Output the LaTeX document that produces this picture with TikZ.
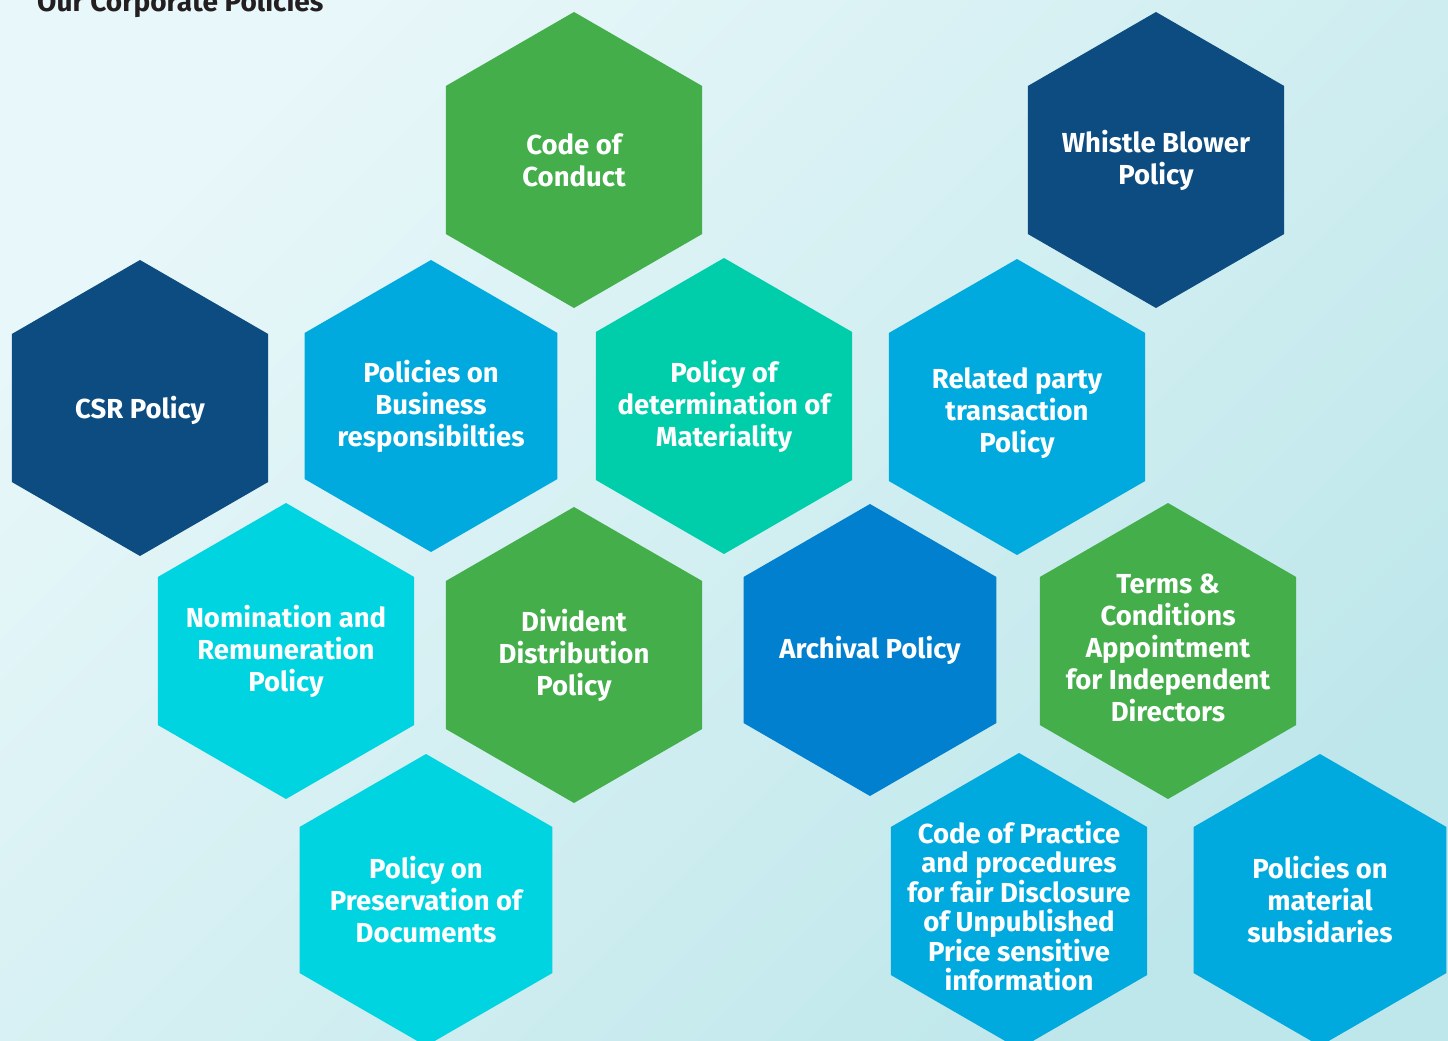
\documentclass[tikz,border=0pt]{standalone}
\usepackage{fontspec}
\setsansfont{Fira Sans}
\usetikzlibrary{shapes.geometric}
\definecolor{PolicyGreen}{RGB}{67,174,74}
\definecolor{PolicyNavy}{RGB}{13,76,128}
\definecolor{PolicyBlue}{RGB}{0,170,223}
\definecolor{PolicyTeal}{RGB}{0,206,170}
\definecolor{PolicyCyan}{RGB}{0,212,224}
\definecolor{PolicyAzure}{RGB}{0,128,206}
\definecolor{BackLight}{RGB}{232,247,249}
\definecolor{BackDark}{RGB}{190,231,235}
\definecolor{TitleInk}{RGB}{35,31,32}
\tikzset{
  hexcell/.style={regular polygon,regular polygon sides=6,shape border rotate=30,
    minimum size=296pt,inner sep=0pt,draw=none},
  smallcell/.style={hexcell,minimum size=292pt},
  hexlabel/.style={text=white,align=center,inner sep=0pt,
    font=\sffamily\bfseries\fontsize{27.5}{32}\selectfont},
  tightlabel/.style={hexlabel,font=\sffamily\bfseries\fontsize{27.5}{29.5}\selectfont}
}

\begin{document}
\begin{tikzpicture}[x=1pt,y=-1pt]
  \useasboundingbox (0,0) rectangle (1448,1041);
  \shade[top color=BackLight,bottom color=BackDark,shading angle=45]
    (0,0) rectangle (1448,1041);
  \node[anchor=base west,text=TitleInk,inner sep=0pt,
    font=\sffamily\bfseries\fontsize{28}{32}\selectfont] (title) at (37,12) {Our Corporate Policies};
  % top row
  \node[hexcell,fill=PolicyGreen] (conduct) at (574,160) {};
  \node[hexcell,fill=PolicyNavy] (whistle) at (1156,160) {};
  % second row
  \node[hexcell,fill=PolicyNavy] (csr) at (140,408) {};
  \node[smallcell,fill=PolicyBlue] (business) at (431,406) {};
  \node[hexcell,fill=PolicyTeal] (materiality) at (724,406) {};
  \node[hexcell,fill=PolicyBlue] (related) at (1017,407) {};
  % third row
  \node[hexcell,fill=PolicyCyan] (nomination) at (286,651) {};
  \node[hexcell,fill=PolicyGreen] (divident) at (574,655) {};
  \node[smallcell,fill=PolicyAzure] (archival) at (870,650) {};
  \node[hexcell,fill=PolicyGreen] (terms) at (1168,651) {};
  % bottom row
  \node[smallcell,fill=PolicyCyan] (preservation) at (426,900) {};
  \node[hexcell,fill=PolicyBlue] (practice) at (1019,901) {};
  \node[smallcell,fill=PolicyBlue] (subsidiaries) at (1320,900) {};
  % labels
  \node[hexlabel] (conductlbl) at (conduct) {Code of\\Conduct};
  \node[hexlabel] (whistlelbl) at (whistle) {Whistle Blower\\Policy};
  \node[hexlabel,yshift=-2pt] (csrlbl) at (csr) {CSR Policy};
  \node[hexlabel] (businesslbl) at (business) {Policies on\\Business\\responsibilties};
  \node[hexlabel] (materialitylbl) at (materiality) {Policy of\\determination of\\Materiality};
  \node[hexlabel,yshift=-6pt] (relatedlbl) at (related) {Related party\\transaction\\Policy};
  \node[hexlabel] (nominationlbl) at (nomination) {Nomination and\\Remuneration\\Policy};
  \node[hexlabel] (dividentlbl) at (divident) {Divident\\Distribution\\Policy};
  \node[hexlabel] (archivallbl) at (archival) {Archival Policy};
  \node[hexlabel,yshift=3pt] (termslbl) at (terms) {Terms \&\\Conditions\\Appointment\\for Independent\\Directors};
  \node[hexlabel] (preservationlbl) at (preservation) {Policy on\\Preservation of\\Documents};
  \node[tightlabel,yshift=-5pt] (practicelbl) at (practice) {Code of Practice\\and procedures\\for fair Disclosure\\of Unpublished\\Price sensitive\\information};
  \node[hexlabel] (subsidiarieslbl) at (subsidiaries) {Policies on\\material\\subsidaries};
\end{tikzpicture}
\end{document}
